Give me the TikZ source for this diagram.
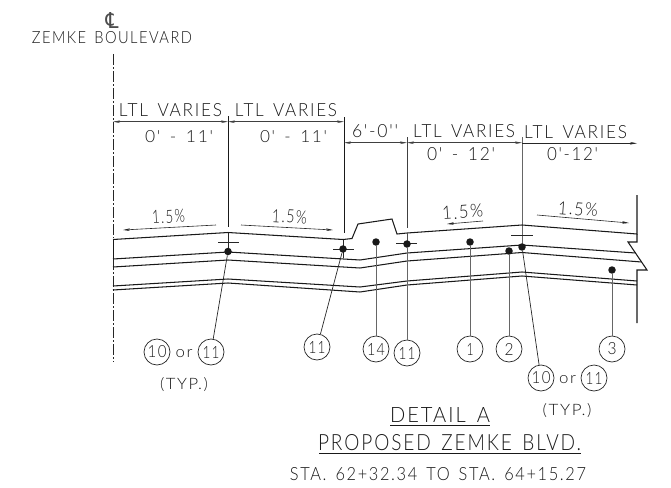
\documentclass[tikz,border=0pt]{standalone}
\usepackage{fontspec}
\usepackage{graphicx}
\setmainfont{Lato Light}
\newfontfamily\cadfont[LetterSpace=10]{Lato Light}
\newfontfamily\symfont{DejaVu Sans}
\usetikzlibrary{arrows.meta}
\tikzset{
  road/.style={line width=1.05pt,black!90,line join=miter},
  dimline/.style={line width=0.6pt,black!75,{Stealth[length=7pt,width=2.6pt]}-{Stealth[length=7pt,width=2.6pt]}},
  slope/.style={line width=0.6pt,black!85,-{Stealth[length=7pt,width=2.6pt]}},
  wit/.style={line width=0.8pt,black!90},
  lead/.style={line width=0.9pt,black!60},
  thin lead/.style={line width=0.7pt,black!85},
  tick/.style={line width=0.8pt,black!85},
  cad/.style={inner sep=0pt,outer sep=0pt,text=black!90},
  dot/.style={circle,fill=black!90,inner sep=0pt,minimum size=7.5pt},
  callout/.style={circle,draw=black!85,line width=0.7pt,inner sep=0pt,minimum size=26pt,text=black!90},
  ul/.style={line width=0.9pt,black!90}
}
\newcommand{\cad}[3]{\resizebox{#1pt}{#2pt}{\cadfont #3}}
\newcommand{\gap}{\hspace{0.55em}}
\begin{document}
\begin{tikzpicture}[x=1pt,y=-1pt]
\useasboundingbox (0,0) rectangle (671,487);

% centre line
\draw[line width=0.7pt,black!85,dash pattern=on 11pt off 2pt on 2pt off 2pt] (113,54) -- (113,238);
\draw[line width=1pt,black!90] (113,239.5) -- (113,259);
\draw[line width=0.7pt,black!85,dash pattern=on 11pt off 2pt on 2pt off 2pt] (113,259) -- (113,362);

% title of centre line
\node[cad,text=black!70] (cl) at (112,20) {\resizebox{13pt}{16pt}{\symfont ℄}};
\node[cad] (zemke) at (112,37.5) {\cad{160}{12}{ZEMKE\gap BOULEVARD}};

% witness lines
\coordinate (wa) at (113,121.7);
\coordinate (wb) at (228,121.7);
\coordinate (wc) at (344,121.7);
\coordinate (wd) at (344,142.7);
\coordinate (we) at (407,142.7);
\coordinate (wf) at (522,142.7);
\coordinate (wg) at (522,143.3);
\coordinate (wh) at (637,143.3);
\draw[wit] (228,116) -- (228,227);
\draw[wit] (344,117) -- (344,233);
\draw[line width=1pt,black!75] (407,137) -- (407,228);
\draw[line width=0.8pt,black!60] (522,137) -- (522,247);

% dimension lines
\draw[dimline] (wa) -- (wb);
\draw[dimline] (wb) -- (wc);
\draw[dimline] (wd) -- (we);
\draw[dimline] (we) -- (wf);
\draw[slope] (wg) -- (wh);

% dimension texts
\node[cad] (t1) at (170.5,110) {\cad{103}{13}{LTL\gap VARIES}};
\node[cad] (t2) at (286,110) {\cad{102}{13}{LTL\gap VARIES}};
\node[cad] (t3) at (464,131.5) {\cad{102}{13}{LTL\gap VARIES}};
\node[cad] (t4) at (575.5,132.5) {\cad{103}{13}{LTL\gap VARIES}};
\node[cad] (t5) at (179,137) {\cad{68}{12}{0'\gap -\gap 11'}};
\node[cad] (t6) at (293.5,137) {\cad{67}{12}{0'\gap -\gap 11'}};
\node[cad] (t7) at (461,154.5) {\cad{68}{13}{0'\gap -\gap 12'}};
\node[cad] (t8) at (572.5,154.5) {\cad{51}{13}{0'-12'}};
\node[cad] (t9) at (375,131.5) {\cad{46}{13}{6'-0''}};

% slopes
\node[cad,rotate=3] (s1) at (168.5,216.5) {\cad{33}{13}{1.5\%}};
\node[cad,rotate=-3] (s2) at (289.5,216.5) {\cad{35}{13}{1.5\%}};
\node[cad,rotate=4] (s3) at (462.5,212) {\cad{41}{13}{1.5\%}};
\node[cad,rotate=-4] (s4) at (578,209) {\cad{40}{13}{1.5\%}};
\coordinate (a1) at (216,225); \coordinate (b1) at (123,230);
\coordinate (a2) at (241,225); \coordinate (b2) at (333,230);
\coordinate (a3) at (483,221); \coordinate (b3) at (447,224);
\coordinate (a4) at (537,215); \coordinate (b4) at (629,223);
\draw[slope] (a1) -- (b1);
\draw[slope] (a2) -- (b2);
\draw[slope] (a3) -- (b3);
\draw[slope] (a4) -- (b4);

% pavement
\draw[road] (113,239.5) -- (228,232.5) -- (343,239.5) -- (352,238.5) -- (358,224) -- (392,219) -- (397,234) -- (407,233) -- (522,225) -- (637,234) -- (637,195);
\draw[road] (637,234) -- (637,242) -- (628,242) -- (647,270) -- (637,270) -- (637,323);
\draw[road] (113,259) -- (228,252) -- (360,260) -- (407,253) -- (522,245) -- (635.5,253);
\draw[road] (113,267) -- (228,260) -- (360,268) -- (407,261) -- (522,252.5) -- (641.5,262);
\draw[road] (113,286) -- (228,279) -- (360,287) -- (407,281) -- (522,272) -- (637,281);
\draw[road] (113,290) -- (228,283) -- (360,292) -- (407,285) -- (522,276) -- (637,285);
\draw[line width=1pt,black!85] (343.5,239.5) -- (343.5,258);
\draw[line width=0.9pt,black!85] (228,232.5) -- (228,251);
\draw[line width=1pt,black!70] (407,233) -- (407,244);

% tick marks
\draw[tick] (218,242) -- (239,242);
\draw[tick] (333,249) -- (354,249);
\draw[tick] (396,243.5) -- (417,243.5);
\draw[tick] (511,235) -- (533,235);

% dots
\node[dot] (d1) at (228,251.5) {};
\node[dot] (d2) at (343,249) {};
\node[dot] (d3) at (376,242) {};
\node[dot] (d4) at (407,244) {};
\node[dot] (d5) at (470,242) {};
\node[dot] (d6) at (509,251) {};
\node[dot] (d7) at (522,247) {};
\node[dot] (d8) at (612,270) {};

% callouts
\node[callout] (c10a) at (157,352) {\cad{19}{12}{10}};
\node[callout] (c11a) at (211,352) {\cad{17}{12}{11}};
\node[callout] (c11b) at (317,347) {\cad{17}{12}{11}};
\node[callout] (c14) at (376,349) {\cad{18}{12}{14}};
\node[callout] (c11c) at (407,353) {\cad{17}{12}{11}};
\node[callout] (c1) at (470,349) {\cad{7}{12}{1}};
\node[callout] (c2) at (509,349) {\cad{9}{12}{2}};
\node[callout] (c3) at (612,349) {\cad{9}{12}{3}};
\node[callout] (c10b) at (541,378) {\cad{19}{12}{10}};
\node[callout] (c11d) at (594,378) {\cad{17}{12}{11}};
\node[cad] (or1) at (184,354) {\cad{17}{8}{or}};
\node[cad] (or2) at (567.5,380) {\cad{17}{8}{or}};
\node[cad] (typ1) at (184,385) {\cad{48}{12}{(TYP.)}};
\node[cad] (typ2) at (567,411) {\cad{49}{12}{(TYP.)}};

% leaders
\draw[thin lead] (d1) -- (c11a);
\draw[thin lead] (d2) -- (c11b);
\draw[lead] (d3) -- (c14);
\draw[lead] (d4) -- (c11c);
\draw[lead] (d5) -- (c1);
\draw[lead] (d6) -- (c2);
\draw[thin lead] (d7) -- (c10b);
\draw[lead] (d8) -- (c3);

% titles
\node[cad] (dt) at (440,415) {\cad{100}{15}{DETAIL\gap A}};
\node[cad] (pz) at (449.5,443) {\cad{263}{16}{PROPOSED\gap ZEMKE\gap BLVD.}};
\node[cad] (st) at (438,474.5) {\cad{296}{13}{STA.\gap 62+32.34\gap TO\gap STA.\gap 64+15.27}};
\draw[ul] (390,425) -- (490,425);
\draw[ul] (319,453) -- (581,453);
\end{tikzpicture}
\end{document}
